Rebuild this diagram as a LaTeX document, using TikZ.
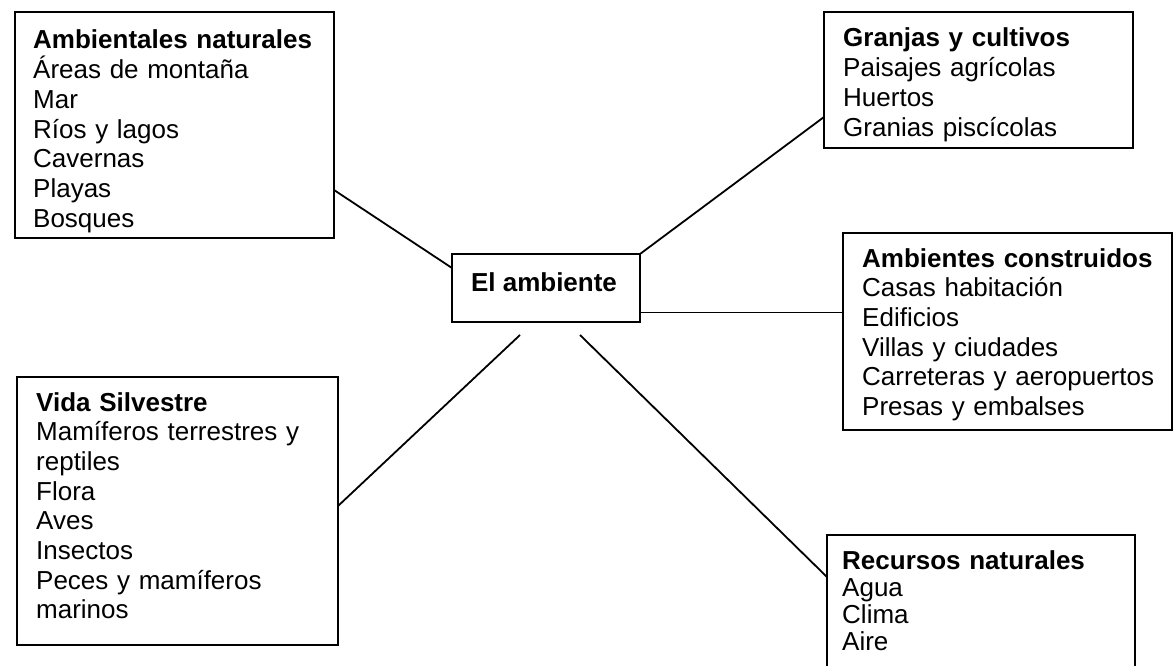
\documentclass[tikz,border=0pt]{standalone}
\usepackage{fontspec}
\setmainfont{Liberation Sans}
\begin{document}
\begin{tikzpicture}[x=1bp,y=-1bp,
  box/.style={draw, line width=1.9bp, anchor=north west, inner sep=0pt, outer sep=0pt},
  txt/.style={anchor=base west, inner sep=0pt, align=left, text width=340bp,
    font=\fontsize{26bp}{29.7bp}\selectfont},
  link/.style={line width=1.8bp}]
\useasboundingbox (0,0) rectangle (1176,666);
\clip (0,0) rectangle (1176,666);
% boxes
\node[box, minimum width=319bp, minimum height=226bp] (nat) at (15,12) {};
\node[box, minimum width=309bp, minimum height=136bp] (gra) at (824,12) {};
\node[box, minimum width=188bp, minimum height=68bp] (amb) at (452,254) {};
\node[box, minimum width=329bp, minimum height=197bp] (con) at (843,233) {};
\node[box, minimum width=321bp, minimum height=268bp] (vid) at (17,377) {};
\node[box, minimum width=308bp, minimum height=160bp] (rec) at (827,535) {};
% texts
\node[txt] (natt) at (33,49) {\textbf{Ambientales naturales}\\Áreas de montaña\\Mar\\Ríos y lagos\\Cavernas\\Playas\\Bosques};
\node[txt] (grat) at (843,47) {\textbf{Granjas y cultivos}\\Paisajes agrícolas\\Huertos\\Granias piscícolas};
\node[anchor=base, inner sep=0pt, font=\fontsize{26bp}{29.7bp}\selectfont\bfseries] (ambt) at (544,291) {El ambiente};
\node[txt] (cont) at (862,267) {\textbf{Ambientes construidos}\\Casas habitación\\Edificios\\Villas y ciudades\\Carreteras y aeropuertos\\Presas y embalses};
\node[txt] (vidt) at (36,411) {\textbf{Vida Silvestre}\\Mamíferos terrestres y\\reptiles\\Flora\\Aves\\Insectos\\Peces y mamíferos\\marinos};
\node[txt, font=\fontsize{26bp}{27bp}\selectfont] (rect) at (842,569) {\textbf{Recursos naturales}\\Agua\\Clima\\Aire};
% connector ends
\coordinate (vidend) at (520,335);
\coordinate (recend) at (580,335);
% connectors
\draw[link] (nat.east |- 0,190) -- (amb.west |- 0,268);
\draw[link] (amb.north east) -- (gra.west |- 0,117);
\draw[link] (amb.east |- 0,312.5) -- (con.west |- 0,312.5);
\draw[link] (vid.east |- 0,506) -- (vidend);
\draw[link] (recend) -- (rec.west |- 0,577);
\end{tikzpicture}
\end{document}
